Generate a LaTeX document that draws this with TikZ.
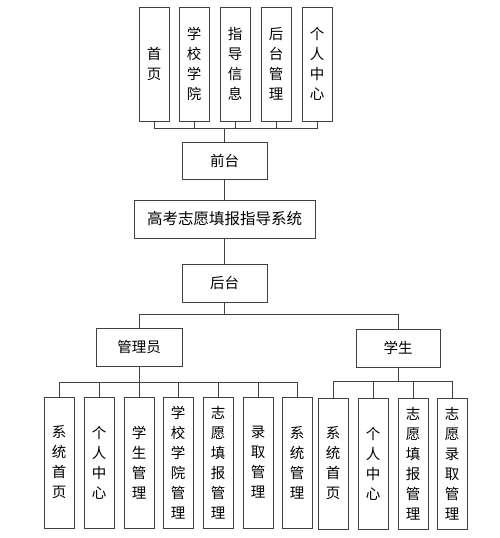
\documentclass[tikz,border=0pt]{standalone}
\usepackage{fontspec}
\setmainfont{Noto Sans CJK SC}
\usepackage{tikz}
\usetikzlibrary{positioning}

\begin{document}
\begin{tikzpicture}[x=1pt, y=-1pt, font=\fontsize{14.5}{20}\selectfont,
  colbox/.style={rectangle, draw=black!75, line width=0.9pt, inner sep=0pt, minimum width=30pt, align=center, text width=15pt},
  topbox/.style={colbox, minimum height=114pt},
  leafbox/.style={colbox, minimum height=131pt},
  rowbox/.style={rectangle, draw=black!75, line width=0.9pt, inner sep=0pt, minimum height=38pt},
  line/.style={draw=black!75, line width=0.9pt}]
\useasboundingbox (0,0) rectangle (499,538);
% front pages
\node [topbox] (syy) at (154,64) {首\\页};
\node [topbox] (xxxy) at (194,64) {学\\校\\学\\院};
\node [topbox] (zdxx) at (235,64) {指\\导\\信\\息};
\node [topbox] (htgl) at (276,64) {后\\台\\管\\理};
\node [topbox] (grzx) at (317,64) {个\\人\\中\\心};
% main column
\node [rowbox, minimum width=85pt, minimum height=37pt] (qt) at (224.5,160.5) {前台};
\node [rowbox, minimum width=181pt, font=\fontsize{15.5}{18}\selectfont] (sys) at (224.5,219) {高考志愿填报指导系统};
\node [rowbox, minimum width=85pt] (ht) at (224.5,283) {后台};
\node [rowbox, minimum width=86pt] (gly) at (139,347) {管理员};
\node [rowbox, minimum width=84pt] (xs) at (398,348) {学生};
% admin modules
\node [leafbox] (a1) at (59,462.5) {系\\统\\首\\页};
\node [leafbox] (a2) at (99,462.5) {个\\人\\中\\心};
\node [leafbox] (a3) at (139,462.5) {学\\生\\管\\理};
\node [leafbox] (a4) at (178,462.5) {学\\校\\学\\院\\管\\理};
\node [leafbox] (a5) at (218,462.5) {志\\愿\\填\\报\\管\\理};
\node [leafbox] (a6) at (258,462.5) {录\\取\\管\\理};
\node [leafbox] (a7) at (297,462.5) {系\\统\\管\\理};
% student modules
\node [leafbox] (s1) at (333,463.5) {系\\统\\首\\页};
\node [leafbox] (s2) at (373,463.5) {个\\人\\中\\心};
\node [leafbox] (s3) at (413,463.5) {志\\愿\\填\\报\\管\\理};
\node [leafbox] (s4) at (452,463.5) {志\\愿\\录\\取\\管\\理};
% connectors
\coordinate (topbus) at (224.5,128);
\coordinate (htbus) at (224.5,314);
\coordinate (glybus) at (139,382);
\coordinate (xsbus) at (398,381);
\draw [line] (qt.north) -- (topbus);
\draw [line] (syy.south) |- (topbus);
\draw [line] (xxxy.south) |- (topbus);
\draw [line] (zdxx.south) |- (topbus);
\draw [line] (htgl.south) |- (topbus);
\draw [line] (grzx.south) |- (topbus);
\draw [line] (qt.south) -- (sys.north);
\draw [line] (sys.south) -- (ht.north);
\draw [line] (ht.south) -- (htbus) -| (gly.north);
\draw [line] (htbus) -| (xs.north);
\draw [line] (gly.south) -- (glybus);
\draw [line] (glybus) -| (a1.north);
\draw [line] (glybus) -| (a2.north);
\draw [line] (glybus) -| (a3.north);
\draw [line] (glybus) -| (a4.north);
\draw [line] (glybus) -| (a5.north);
\draw [line] (glybus) -| (a6.north);
\draw [line] (glybus) -| (a7.north);
\draw [line] (xs.south) -- (xsbus);
\draw [line] (xsbus) -| (s1.north);
\draw [line] (xsbus) -| (s2.north);
\draw [line] (xsbus) -| (s3.north);
\draw [line] (xsbus) -| (s4.north);
\end{tikzpicture}
\end{document}
